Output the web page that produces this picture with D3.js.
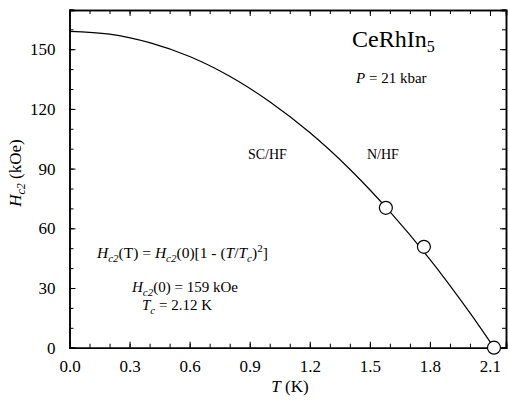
<!DOCTYPE html>
<html>
<head>
<meta charset="utf-8">
<script src="https://cdn.jsdelivr.net/npm/d3@7"></script>
<style>
  body { margin: 0; background: #fff; }
  svg text { font-family: "Liberation Serif", "Times New Roman", serif; fill: #000; }
  .axis path, .axis line { stroke: #000; }
</style>
</head>
<body>
<div id="chart"></div>
<script>
// values
var xTicks = [0.0, 0.3, 0.6, 0.9, 1.2, 1.5, 1.8, 2.1];
var yTicks = [0, 30, 60, 90, 120, 150];
var xMinor = d3.range(0, 2.15, 0.1);
var yMinor = d3.range(0, 171, 10);

// fitted curve, read at a few temperatures
var curveT = [0.0, 0.2, 0.4, 0.6, 0.8, 1.0, 1.2, 1.4, 1.6, 1.8, 2.0, 2.12];
var curveH = [159, 157.6, 153.3, 146.3, 136.4, 123.6, 108.1, 89.7, 68.4, 44.4, 17.5, 0];

// measured points
var pointT = [1.58, 1.77, 2.12];
var pointH = [70.3, 50.7, 0];

var width = 509;
var height = 402;
var margin = {top: 10, right: 3, bottom: 54.3, left: 69.5};
var w = width - margin.left - margin.right;
var h = height - margin.top - margin.bottom;

var svg = d3.select("#chart")
    .append("svg")
    .attr("width", width)
    .attr("height", height);

var g = svg.append("g")
    .attr("transform", "translate(" + margin.left + "," + margin.top + ")");

var x = d3.scaleLinear().domain([0, 2.18]).range([0, w]);
var y = d3.scaleLinear().domain([0, 169.7]).range([h, 0]);

// minor ticks (inward) on all four sides
g.append("g").attr("class", "axis")
    .attr("transform", "translate(0," + h + ")")
    .call(d3.axisBottom(x).tickValues(xMinor).tickSize(-4).tickFormat(""));
g.append("g").attr("class", "axis")
    .call(d3.axisTop(x).tickValues(xMinor).tickSize(-4).tickFormat(""));
g.append("g").attr("class", "axis")
    .call(d3.axisLeft(y).tickValues(yMinor).tickSize(-4).tickFormat(""));
g.append("g").attr("class", "axis")
    .attr("transform", "translate(" + w + ",0)")
    .call(d3.axisRight(y).tickValues(yMinor).tickSize(-4).tickFormat(""));

// major ticks with labels
g.append("g").attr("class", "axis")
    .attr("transform", "translate(0," + h + ")")
    .call(d3.axisBottom(x).tickValues(xTicks).tickSize(-6).tickPadding(12).tickFormat(d3.format(".1f")));
g.append("g").attr("class", "axis")
    .call(d3.axisLeft(y).tickValues(yTicks).tickSize(-6).tickPadding(14).tickFormat(d3.format("d")));
g.append("g").attr("class", "axis")
    .call(d3.axisTop(x).tickValues(xTicks).tickSize(-6).tickFormat(""));
g.append("g").attr("class", "axis")
    .attr("transform", "translate(" + w + ",0)")
    .call(d3.axisRight(y).tickValues(yTicks).tickSize(-6).tickFormat(""));

g.selectAll(".axis path").attr("stroke-width", 1.5);
g.selectAll(".axis text")
    .style("font-family", "'Liberation Serif', serif")
    .style("font-size", "17px");

// axis titles
svg.append("text")
    .attr("x", 290)
    .attr("y", 392)
    .attr("text-anchor", "middle")
    .style("font-size", "17px")
    .html("<tspan font-style='italic'>T</tspan> (K)");

svg.append("text")
    .attr("transform", "translate(21,173) rotate(-90)")
    .attr("text-anchor", "middle")
    .style("font-size", "17px")
    .html("<tspan font-style='italic'>H</tspan><tspan font-style='italic' font-size='12px' dy='4'>c2</tspan><tspan dy='-4'> (kOe)</tspan>");

// curve
var line = d3.line()
    .x(function(d, i) { return x(curveT[i]); })
    .y(function(d, i) { return y(curveH[i]); })
    .curve(d3.curveCatmullRom);

g.append("path")
    .datum(curveT)
    .attr("d", line)
    .attr("fill", "none")
    .attr("stroke", "#000")
    .attr("stroke-width", 1.2);

// points
g.selectAll("circle")
    .data(pointT)
    .enter()
    .append("circle")
    .attr("cx", function(d) { return x(d); })
    .attr("cy", function(d, i) { return y(pointH[i]); })
    .attr("r", 6.5)
    .attr("fill", "#fff")
    .attr("stroke", "#000")
    .attr("stroke-width", 1.2);

// annotations
svg.append("text")
    .attr("x", 352)
    .attr("y", 47)
    .style("font-size", "24px")
    .html("CeRhIn<tspan font-size='16px' dy='5'>5</tspan>");

svg.append("text")
    .attr("x", 356)
    .attr("y", 83)
    .style("font-size", "15px")
    .html("<tspan font-style='italic'>P</tspan> = 21 kbar");

svg.append("text")
    .attr("x", 248)
    .attr("y", 159)
    .style("font-size", "14px")
    .text("SC/HF");

svg.append("text")
    .attr("x", 367)
    .attr("y", 159)
    .style("font-size", "14px")
    .text("N/HF");

svg.append("text")
    .attr("x", 97)
    .attr("y", 258)
    .style("font-size", "15.5px")
    .html("<tspan font-style='italic'>H</tspan><tspan font-style='italic' font-size='11px' dy='4'>c2</tspan>" +
          "<tspan dy='-4'>(T) = </tspan><tspan font-style='italic'>H</tspan><tspan font-style='italic' font-size='11px' dy='4'>c2</tspan>" +
          "<tspan dy='-4'>(0)[1 - (</tspan><tspan font-style='italic'>T</tspan>/<tspan font-style='italic'>T</tspan>" +
          "<tspan font-style='italic' font-size='11px' dy='4'>c</tspan><tspan dy='-4'>)</tspan>" +
          "<tspan font-size='11px' dy='-6'>2</tspan><tspan dy='6'>]</tspan>");

svg.append("text")
    .attr("x", 132)
    .attr("y", 292)
    .style("font-size", "15px")
    .html("<tspan font-style='italic'>H</tspan><tspan font-style='italic' font-size='11px' dy='4'>c2</tspan>" +
          "<tspan dy='-4'>(0) = 159 kOe</tspan>");

svg.append("text")
    .attr("x", 142)
    .attr("y", 310)
    .style("font-size", "15px")
    .html("<tspan font-style='italic'>T</tspan><tspan font-style='italic' font-size='11px' dy='4'>c</tspan>" +
          "<tspan dy='-4'> = 2.12 K</tspan>");
</script>
</body>
</html>
